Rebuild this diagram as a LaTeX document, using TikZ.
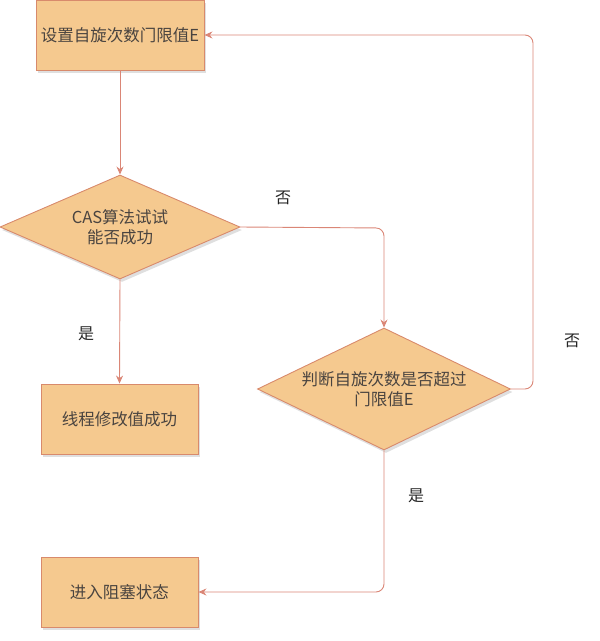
\documentclass[tikz,border=0pt]{standalone}
\usepackage{fontspec}
\setmainfont{Noto Sans CJK SC}
\usetikzlibrary{shapes.geometric,arrows.meta,shadows}
\definecolor{boxfill}{HTML}{F5C98F}
\definecolor{boxline}{HTML}{D88A6C}
\definecolor{linkc}{HTML}{DA8676}
\definecolor{txt}{HTML}{4A4440}
\tikzset{
  base/.style={draw=boxline, fill=boxfill, line width=0.9pt, text=txt, font=\fontsize{16.5}{20}\selectfont, align=center,
    drop shadow={shadow xshift=2pt, shadow yshift=-3pt, opacity=0.25, fill=gray}},
  rectbox/.style={base, rectangle, minimum width=#1, minimum height=70pt, inner sep=0pt},
  decision/.style={base, diamond, inner sep=0pt},
  link/.style={draw=linkc, line width=0.9pt, rounded corners=8pt, -{Stealth[length=8pt,width=7pt]}},
  lbl/.style={text=black!85, font=\fontsize{16}{19}\selectfont}
}
\begin{document}
\begin{tikzpicture}[x=1pt,y=-1pt]
\useasboundingbox (0,0) rectangle (600,641);
\node[rectbox=168pt] (set) at (120,35) {设置自旋次数门限值E};
\node[decision, aspect=2.3, minimum width=240pt, minimum height=104pt] (cas) at (120,227) {CAS算法试试\\能否成功};
\node[rectbox=157pt] (ok) at (119.5,419) {线程修改值成功};
\node[decision, aspect=2.07, minimum width=253pt, minimum height=122pt] (chk) at (384,389) {判断自旋次数是否超过\\门限值E};
\node[rectbox=157pt] (blk) at (119.5,592) {进入阻塞状态};
\coordinate (c1) at (384,228);
\coordinate (c2) at (533,389);
\coordinate (c3) at (533,35);
\coordinate (c4) at (384,592);
\draw[link] (set.south) -- (cas.north);
\draw[link] (cas.south) -- (ok.north);
\draw[link] (cas.east) -- (c1) -- (chk.north);
\draw[link] (chk.east) -- (c2) -- (c3) -- (set.east);
\draw[link] (chk.south) -- (c4) -- (blk.east);
\node[lbl] (n1) at (283,198) {否};
\node[lbl] (y1) at (86,334) {是};
\node[lbl] (n2) at (572,341) {否};
\node[lbl] (y2) at (416,496) {是};
\end{tikzpicture}
\end{document}
